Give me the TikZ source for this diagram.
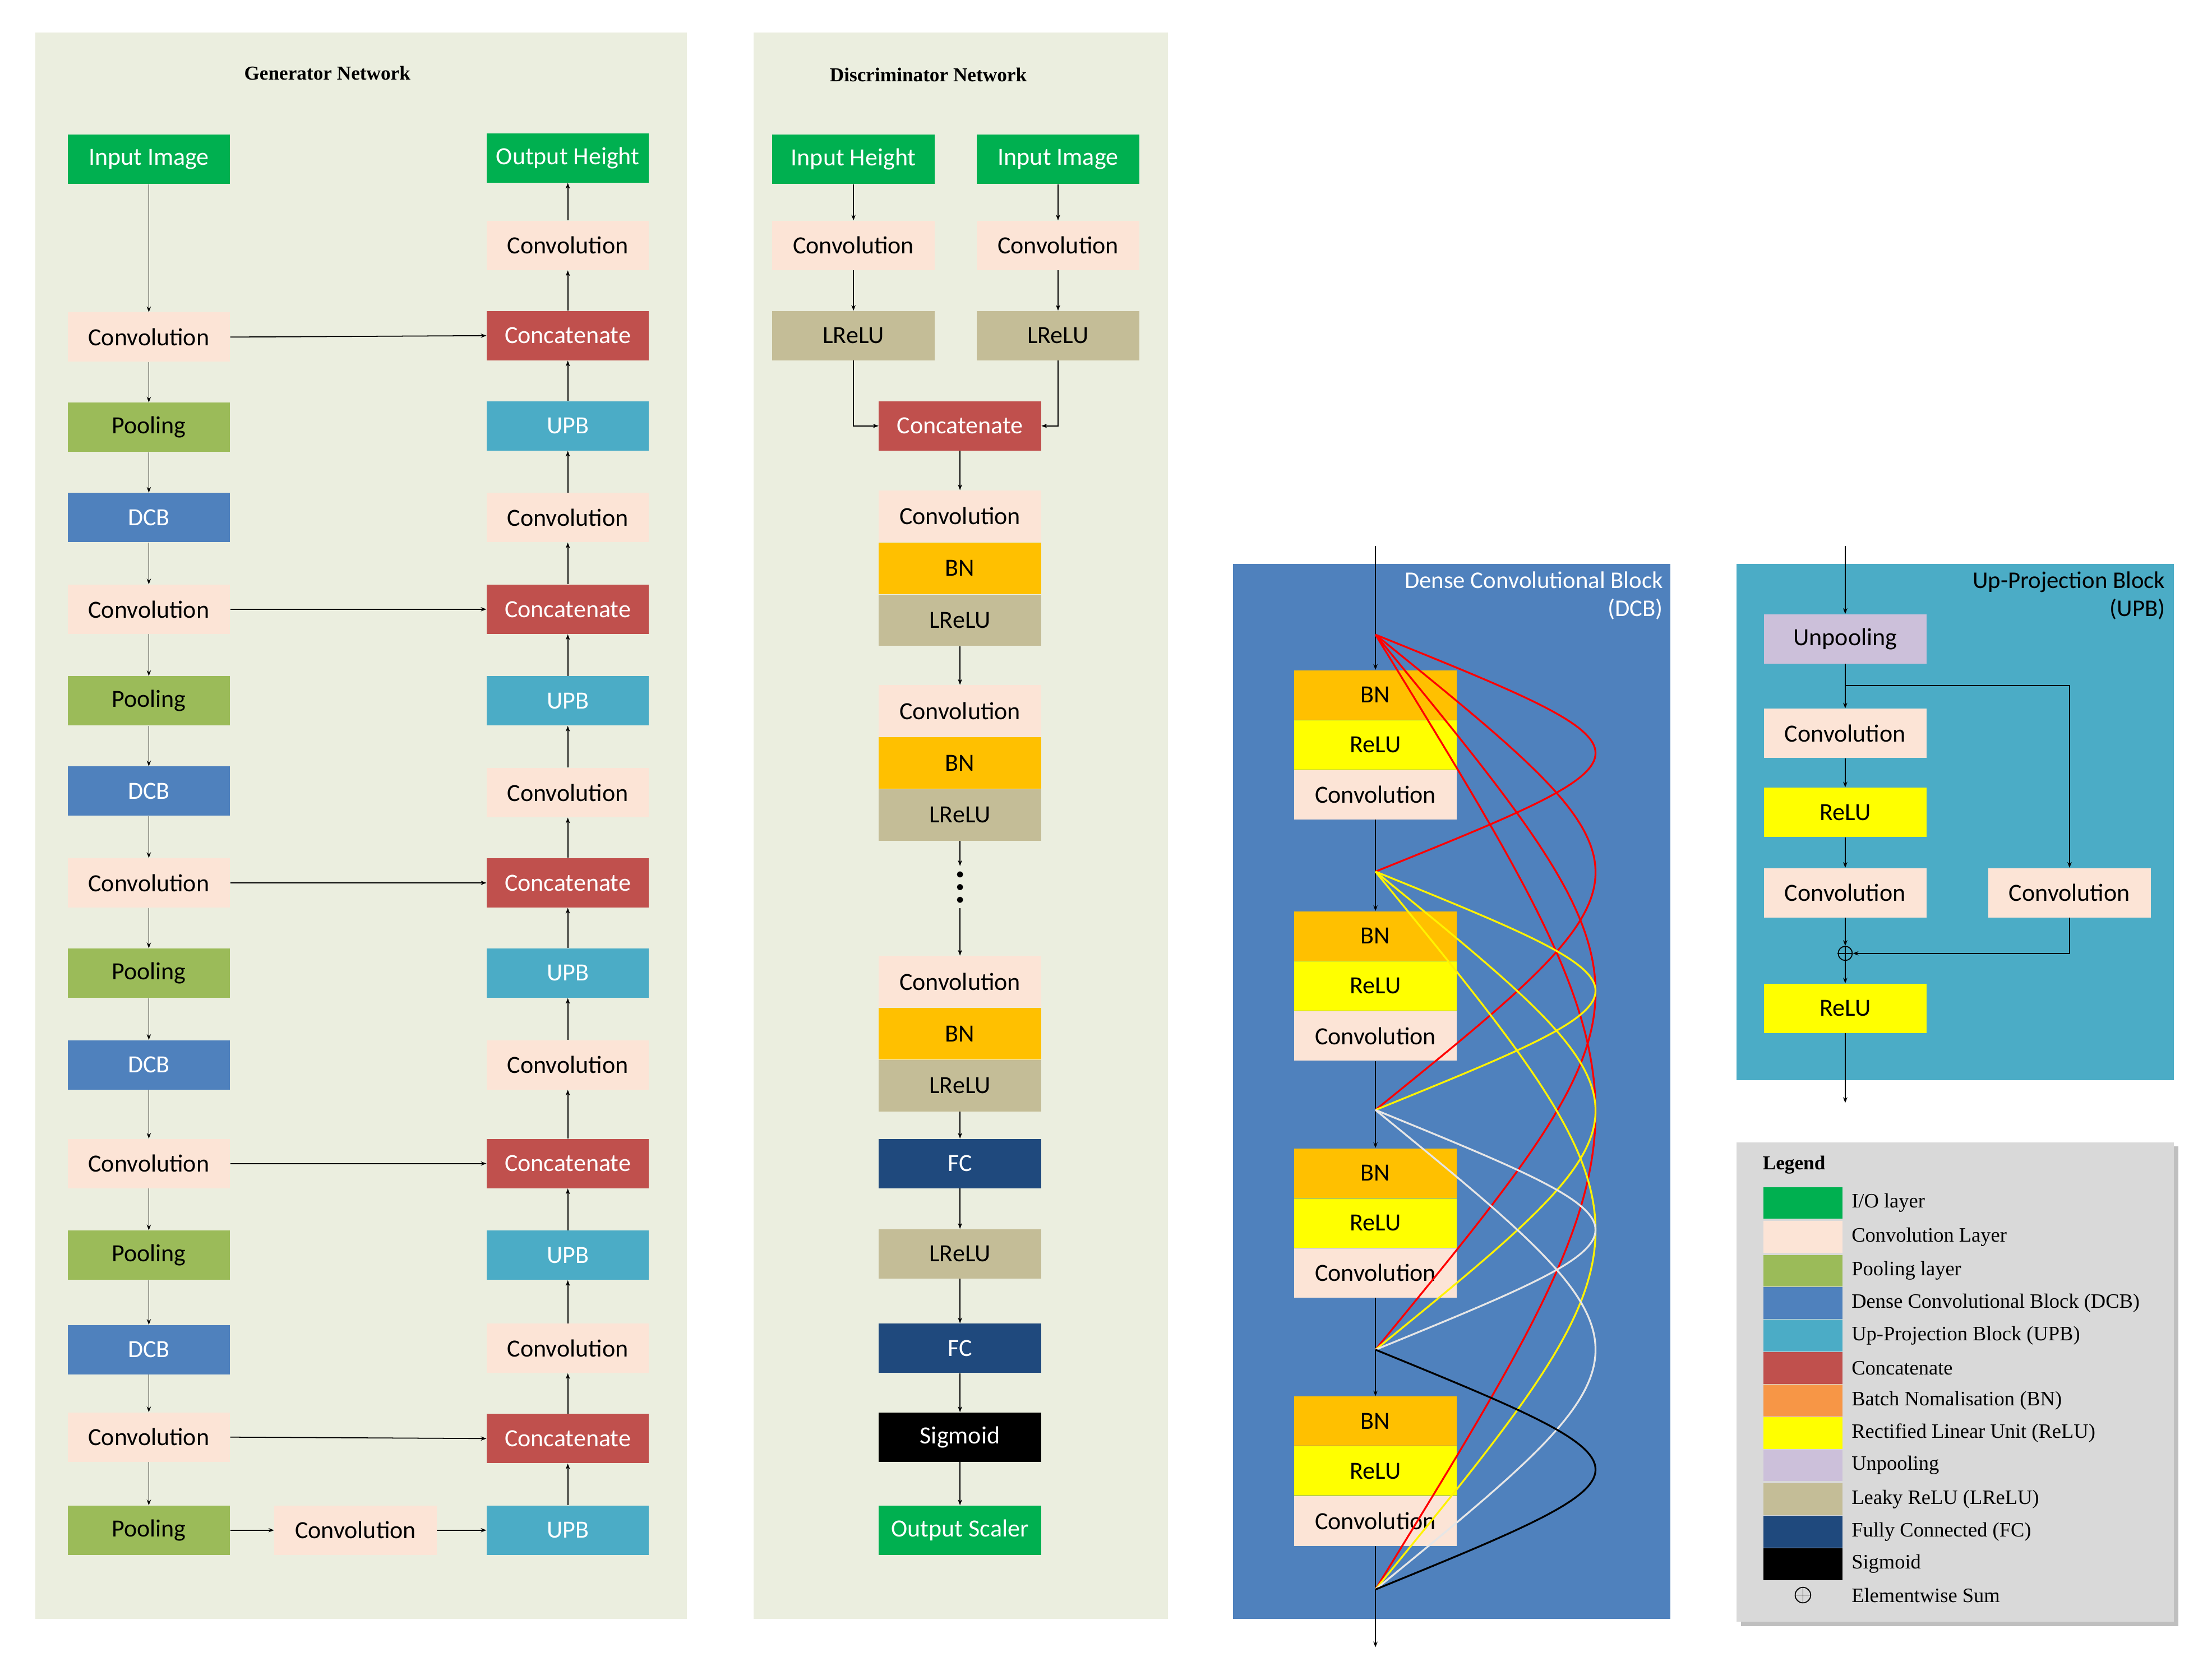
\documentclass[tikz,border=0pt]{standalone}
\usepackage{fontspec}
\setmainfont{Liberation Serif}
\newfontfamily\boxf{Carlito}
\usetikzlibrary{arrows.meta,calc}
\definecolor{io}{HTML}{00B050}
\definecolor{conv}{HTML}{FCE4D6}
\definecolor{pool}{HTML}{9BBB59}
\definecolor{dcb}{HTML}{4F81BD}
\definecolor{upb}{HTML}{4BACC6}
\definecolor{cat}{HTML}{C0504D}
\definecolor{bnl}{HTML}{F79646}
\definecolor{bn}{HTML}{FFC000}
\definecolor{relu}{HTML}{FFFF00}
\definecolor{unp}{HTML}{CCC0DA}
\definecolor{lrelu}{HTML}{C4BD97}
\definecolor{fc}{HTML}{1F497D}
\definecolor{panel}{HTML}{EBEEDF}
\definecolor{leg}{HTML}{D9D9D9}
\definecolor{wline}{HTML}{E6E6E6}
\begin{document}
\begin{tikzpicture}[x=1pt,y=-1pt,
 b/.style={minimum width=115pt,minimum height=35pt,inner sep=0pt,font=\boxf\fontsize{17.5}{19}\selectfont},
 wb/.style={b,text=white},
 bio/.style={wb,fill=io}, bconv/.style={b,fill=conv}, bpool/.style={b,fill=pool},
 bdcb/.style={wb,fill=dcb}, bupb/.style={wb,fill=upb}, bcat/.style={wb,fill=cat},
 bbn/.style={b,fill=bn,minimum height=36.5pt}, brelu/.style={b,fill=relu},
 blr/.style={b,fill=lrelu,minimum height=36.5pt}, bfc/.style={wb,fill=fc},
 bsig/.style={wb,fill=black}, bunp/.style={b,fill=unp},
 ar/.style={-{Stealth[length=4pt,width=3pt]},line width=0.7pt},
 ttl/.style={font=\bfseries\fontsize{14}{15}\selectfont},
 lg/.style={anchor=west,font=\fontsize{14.5}{15}\selectfont},
 sw/.style={minimum width=56pt,minimum height=22.5pt,inner sep=0pt},
 dc/.style={line width=1.3pt}]
\useasboundingbox (0,0) rectangle (1568,1174.9);
% panels
\fill[panel] (25,23) rectangle (487,1148);
\fill[panel] (534,23) rectangle (828,1148);
\node[ttl] (gt) at (232,52) {Generator Network};
\node[ttl] (dt) at (658,53) {Discriminator Network};
% generator left
\node[bio] (gin) at (105.5,113) {Input Image};
\node[bconv] (gc1) at (105.5,239) {Convolution};
\node[bpool] (gp1) at (105.5,303) {Pooling};
\node[bdcb] (gd1) at (105.5,367) {DCB};
\node[bconv] (gc2) at (105.5,432) {Convolution};
\node[bpool] (gp2) at (105.5,497) {Pooling};
\node[bdcb] (gd2) at (105.5,561) {DCB};
\node[bconv] (gc3) at (105.5,626) {Convolution};
\node[bpool] (gp3) at (105.5,690) {Pooling};
\node[bdcb] (gd3) at (105.5,755) {DCB};
\node[bconv] (gc4) at (105.5,825) {Convolution};
\node[bpool] (gp4) at (105.5,890) {Pooling};
\node[bdcb] (gd4) at (105.5,957) {DCB};
\node[bconv] (gc5) at (105.5,1019) {Convolution};
\node[bpool] (gp5) at (105.5,1085) {Pooling};
\node[bconv] (gcm) at (252,1085) {Convolution};
% generator right
\node[bio] (gout) at (402.5,112) {Output Height};
\node[bconv] (rc0) at (402.5,174) {Convolution};
\node[bcat] (rk1) at (402.5,238) {Concatenate};
\node[bupb] (ru1) at (402.5,302) {UPB};
\node[bconv] (rc1) at (402.5,367) {Convolution};
\node[bcat] (rk2) at (402.5,432) {Concatenate};
\node[bupb] (ru2) at (402.5,497) {UPB};
\node[bconv] (rc2) at (402.5,562) {Convolution};
\node[bcat] (rk3) at (402.5,626) {Concatenate};
\node[bupb] (ru3) at (402.5,690) {UPB};
\node[bconv] (rc3) at (402.5,755) {Convolution};
\node[bcat] (rk4) at (402.5,825) {Concatenate};
\node[bupb] (ru4) at (402.5,890) {UPB};
\node[bconv] (rc4) at (402.5,956) {Convolution};
\node[bcat] (rk5) at (402.5,1020) {Concatenate};
\node[bupb] (ru5) at (402.5,1085) {UPB};
\foreach \a/\b in {gin/gc1,gc1/gp1,gp1/gd1,gd1/gc2,gc2/gp2,gp2/gd2,gd2/gc3,gc3/gp3,gp3/gd3,gd3/gc4,gc4/gp4,gp4/gd4,gd4/gc5,gc5/gp5,
  ru5/rk5,rk5/rc4,rc4/ru4,ru4/rk4,rk4/rc3,rc3/ru3,ru3/rk3,rk3/rc2,rc2/ru2,ru2/rk2,rk2/rc1,rc1/ru1,ru1/rk1,rk1/rc0,rc0/gout}
  \draw[ar] (\a) -- (\b);
\foreach \a/\b in {gc1/rk1,gc2/rk2,gc3/rk3,gc4/rk4,gc5/rk5,gp5/gcm,gcm/ru5}
  \draw[ar] (\a.east) -- (\b.west);
% discriminator
\node[bio] (dih) at (605,113) {Input Height};
\node[bio] (dii) at (750,113) {Input Image};
\node[bconv] (dc1) at (605,174) {Convolution};
\node[bconv] (dc2) at (750,174) {Convolution};
\node[blr,minimum height=35pt] (dl1) at (605,238) {LReLU};
\node[blr,minimum height=35pt] (dl2) at (750,238) {LReLU};
\node[bcat] (dk) at (680.5,302) {Concatenate};
\node[bconv,minimum height=36.5pt] (e1c) at (680.5,366) {Convolution};
\node[bbn,anchor=north] (e1b) at (e1c.south) {BN};
\node[blr,anchor=north] (e1l) at (e1b.south) {LReLU};
\node[bconv,minimum height=36.5pt] (e2c) at (680.5,504) {Convolution};
\node[bbn,anchor=north] (e2b) at (e2c.south) {BN};
\node[blr,anchor=north] (e2l) at (e2b.south) {LReLU};
\coordinate (dotsn) at (680.5,614);
\coordinate (dotss) at (680.5,644);
\foreach \yy in {620,629,638} \fill (680.5,\yy) circle (2.2pt);
\node[bconv,minimum height=36.5pt] (e3c) at (680.5,696) {Convolution};
\node[bbn,anchor=north] (e3b) at (e3c.south) {BN};
\node[blr,anchor=north] (e3l) at (e3b.south) {LReLU};
\node[bfc] (f1) at (680.5,825) {FC};
\node[blr,minimum height=35pt] (dl3) at (680.5,889) {LReLU};
\node[bfc] (f2) at (680.5,956) {FC};
\node[bsig] (sg) at (680.5,1019) {Sigmoid};
\node[bio] (os) at (680.5,1085) {Output Scaler};
\foreach \a/\b in {dih/dc1,dii/dc2,dc1/dl1,dc2/dl2,dk/e1c,e1l/e2c,e3l/f1,f1/dl3,dl3/f2,f2/sg,sg/os}
  \draw[ar] (\a) -- (\b);
\draw[ar] (e2l.south) -- (dotsn);
\draw[ar] (dotss) -- (e3c.north);
\draw[ar] (dl1.south) |- (dk.west);
\draw[ar] (dl2.south) |- (dk.east);
% DCB
\fill[dcb] (874,400) rectangle (1184,1148);
\node[anchor=north east,align=right,text=white,font=\boxf\fontsize{17}{20}\selectfont,inner sep=0pt] (dcbt) at (1179,405) {Dense Convolutional Block\\(DCB)};
\coordinate (dtop) at (975,387);
\coordinate (dbot) at (975,1168);
\coordinate (j0) at (975,450);
\coordinate (j1) at (975,618);
\coordinate (j2) at (975,787);
\coordinate (j3) at (975,957);
\coordinate (j4) at (975,1127);
\foreach \i/\y in {1/475,2/646,3/814,4/990}{
 \node[bbn,minimum height=35pt,anchor=north] (k\i b) at (975,\y) {BN};
 \node[brelu,anchor=north] (k\i r) at (k\i b.south) {ReLU};
 \node[bconv,anchor=north] (k\i c) at (k\i r.south) {Convolution};
}
\draw[line width=0.8pt] (dtop) -- (j0);
\draw[ar] (j0) -- (k1b.north); \draw[line width=0.8pt] (k1c.south) -- (j1);
\draw[ar] (j1) -- (k2b.north); \draw[line width=0.8pt] (k2c.south) -- (j2);
\draw[ar] (j2) -- (k3b.north); \draw[line width=0.8pt] (k3c.south) -- (j3);
\draw[ar] (j3) -- (k4b.north); \draw[line width=0.8pt] (k4c.south) -- (j4);
\draw[ar] (j4) -- (dbot);
\foreach \a/\b/\c in {j0/j1/red,j0/j2/red,j0/j3/red,j0/j4/red,j1/j2/yellow,j1/j3/yellow,j1/j4/yellow,j2/j3/wline,j2/j4/wline,j3/j4/black}{
 \draw[dc,\c] (\a) .. controls ($(\a)!0.5!(\b)+(208,0)$) .. (\b);
}
% UPB
\fill[upb] (1231,400) rectangle (1541,766);
\node[anchor=north east,align=right,font=\boxf\fontsize{17}{20}\selectfont,inner sep=0pt] (upbt) at (1535,405) {Up-Projection Block\\(UPB)};
\coordinate (utop) at (1308,387);
\coordinate (ubot) at (1308,782);
\node[bunp] (un) at (1308,453) {Unpooling};
\node[bconv] (uc1) at (1308,520) {Convolution};
\node[brelu] (ur1) at (1308,576) {ReLU};
\node[bconv] (uc2) at (1308,633) {Convolution};
\node[draw,circle,line width=0.7pt,inner sep=0pt,minimum size=10pt] (sum) at (1308,676) {};
\draw[line width=0.7pt] (sum.north) -- (sum.south) (sum.west) -- (sum.east);
\node[brelu] (ur2) at (1308,715) {ReLU};
\node[bconv] (uc3) at (1467,633) {Convolution};
\coordinate (ubr) at (1308,486);
\draw[ar] (utop) -- (un);
\draw[ar] (un) -- (uc1);
\draw[ar] (uc1) -- (ur1);
\draw[ar] (ur1) -- (uc2);
\draw[ar] (uc2) -- (sum);
\draw[ar] (sum) -- (ur2);
\draw[ar] (ur2) -- (ubot);
\draw[ar] (ubr) -| (uc3.north);
\draw[ar] (uc3.south) |- (sum.east);
% legend
\fill[black!25] (1234,813) rectangle (1544,1153);
\fill[leg] (1231,810) rectangle (1541,1150);
\node[anchor=west,font=\bfseries\fontsize{14}{15}\selectfont] (lt) at (1246,826) {Legend};
\foreach \c/\t/\y in {io/I\slash O layer/853,conv/Convolution Layer/877,pool/Pooling layer/901,dcb/Dense Convolutional Block (DCB)/924,upb/Up-Projection Block (UPB)/947,cat/Concatenate/970,bnl/Batch Nomalisation (BN)/993,relu/Rectified Linear Unit (ReLU)/1016,unp/Unpooling/1039,lrelu/Leaky ReLU (LReLU)/1063,fc/Fully Connected (FC)/1086,black/Sigmoid/1109}{
 \node[sw,fill=\c] (s\y) at (1278,\y) {};
 \node[lg] (l\y) at (1309,\y) {\t};
}
\node[draw,circle,line width=0.7pt,inner sep=0pt,minimum size=11pt] (ls) at (1278,1131) {};
\draw[line width=0.7pt] (ls.north) -- (ls.south) (ls.west) -- (ls.east);
\node[lg] (lsum) at (1309,1131) {Elementwise Sum};
\end{tikzpicture}
\end{document}
